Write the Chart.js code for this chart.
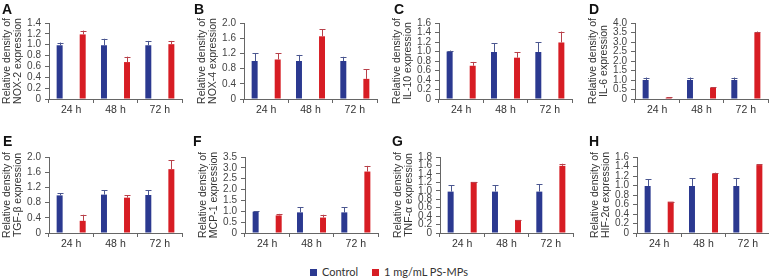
<!DOCTYPE html>
<html>
<head>
<meta charset="utf-8">
<script src="https://cdn.jsdelivr.net/npm/chart.js@4"></script>
<style>
  body { margin: 0; background: #fff; width: 769px; height: 280px; overflow: hidden; position: relative; }
  canvas { position: absolute; }
  .letter { position: absolute; font: bold 14px "Liberation Sans", Arial, sans-serif; color: #111; }
  #legend { position: absolute; top: 265px; left: 310px; font: 11px Lato, "Noto Sans", sans-serif; color: #333; white-space: nowrap; }
  #legend span.sw { display: inline-block; width: 7px; height: 7px; margin-right: 5px; vertical-align: 0px; }
  #legend span.item { margin-right: 14px; }
</style>
</head>
<body>
<div id="legend"></div>
<script>
const times = ['24 h', '48 h', '72 h'];
const seriesNames = ['Control', '1 mg/mL PS-MPs'];
const seriesColors = ['#2b3990', '#d71d24'];
const errorColors = ['#4b5790', '#b8414a'];

const panelLetters = ['A', 'B', 'C', 'D', 'E', 'F', 'G', 'H'];
const markers = ['NOX-2', 'NOX-4', 'IL-10', 'IL-6', 'TGF-β', 'MCP-1', 'TNF-α', 'HIF-2α'];

const controlValues = [
  [0.99, 0.99, 0.99], [1.0, 1.0, 1.0], [1.0, 0.99, 0.99], [1.0, 1.0, 1.0],
  [0.99, 1.01, 1.0], [0.98, 0.95, 0.95], [0.98, 0.98, 0.98], [0.99, 0.99, 0.99]
];
const controlErrors = [
  [0.05, 0.12, 0.08], [0.2, 0.16, 0.11], [0.02, 0.18, 0.2], [0.13, 0.13, 0.13],
  [0.06, 0.12, 0.13], [0.02, 0.23, 0.23], [0.15, 0.15, 0.17], [0.14, 0.16, 0.17]
];
const psValues = [
  [1.19, 0.68, 1.01], [1.04, 1.65, 0.53], [0.70, 0.87, 1.19], [0.07, 0.59, 3.48],
  [0.32, 0.93, 1.68], [0.81, 0.71, 2.83], [1.21, 0.31, 1.59], [0.66, 1.25, 1.43]
];
const psErrors = [
  [0.07, 0.10, 0.06], [0.16, 0.18, 0.25], [0.08, 0.12, 0.23], [0.02, 0.02, 0.07],
  [0.16, 0.06, 0.24], [0.07, 0.13, 0.26], [0.0, 0.0, 0.05], [0.0, 0.02, 0.02]
];
const yMax = [1.4, 2.0, 1.6, 4.0, 2.0, 3.5, 1.8, 1.6];
const yStep = [0.2, 0.4, 0.2, 0.5, 0.4, 0.5, 0.2, 0.2];

// where each panel's y axis sits on the page
const axisLeft = [49, 244, 439, 635, 49, 245, 440, 637];
const letterPos = [[2, 1], [194, 1], [394, 1], [589, 1], [3, 133], [193, 133], [392, 133], [589, 133]];
const yAxisWidth = 47;
const plotWidth = 133;

// draws the upward error bars from the bar top
const errorBars = {
  id: 'errorBars',
  afterDatasetsDraw(chart) {
    const ctx = chart.ctx;
    const y = chart.scales.y;
    chart.data.datasets.forEach((ds, i) => {
      chart.getDatasetMeta(i).data.forEach((bar, j) => {
        const top = y.getPixelForValue(ds.data[j] + ds.errors[j]);
        const x = Math.round(bar.x) + 0.5;
        ctx.save();
        ctx.strokeStyle = ds.errorColor;
        ctx.lineWidth = 1;
        ctx.beginPath();
        ctx.moveTo(x, bar.y);
        ctx.lineTo(x, top);
        ctx.moveTo(x - 3, Math.round(top) + 0.5);
        ctx.lineTo(x + 3, Math.round(top) + 0.5);
        ctx.stroke();
        ctx.restore();
      });
    });
  }
};

function makePanel(p) {
  const row = p < 4 ? 0 : 1;
  const top = row === 0 ? 0 : 125;
  const padTop = row === 0 ? 23 : 32;
  const xHeight = row === 0 ? 26 : 17;
  const left = axisLeft[p] - yAxisWidth;

  const canvas = document.createElement('canvas');
  canvas.width = yAxisWidth + plotWidth + 2;
  canvas.height = 125;
  canvas.style.left = left + 'px';
  canvas.style.top = top + 'px';
  document.body.appendChild(canvas);

  const letter = document.createElement('div');
  letter.className = 'letter';
  letter.textContent = panelLetters[p];
  letter.style.left = letterPos[p][0] + 'px';
  letter.style.top = letterPos[p][1] + 'px';
  document.body.appendChild(letter);

  new Chart(canvas.getContext('2d'), {
    type: 'bar',
    data: {
      labels: times,
      datasets: [
        { label: seriesNames[0], data: controlValues[p], errors: controlErrors[p],
          backgroundColor: seriesColors[0], errorColor: errorColors[0] },
        { label: seriesNames[1], data: psValues[p], errors: psErrors[p],
          backgroundColor: seriesColors[1], errorColor: errorColors[1] }
      ]
    },
    options: {
      responsive: false,
      animation: false,
      devicePixelRatio: 1,
      categoryPercentage: 1.04,
      barPercentage: 0.26,
      layout: { padding: { top: padTop, right: 2, left: 0, bottom: 0 } },
      plugins: { legend: { display: false }, tooltip: { enabled: false } },
      scales: {
        x: {
          grid: { drawOnChartArea: false, tickLength: 4, color: '#666' },
          border: { color: '#666' },
          ticks: { color: '#333', padding: 1, font: { family: 'Liberation Sans', size: 10.5 } },
          afterFit: s => { s.height = xHeight; }
        },
        y: {
          min: 0,
          max: yMax[p],
          grid: { drawOnChartArea: false, tickLength: 4, color: '#666' },
          border: { color: '#666' },
          ticks: {
            stepSize: yStep[p],
            autoSkip: false,
            padding: 4,
            color: '#444',
            font: { family: 'Liberation Sans', size: 10, lineHeight: 1.0 },
            callback: v => (v === 0 ? '0' : v.toFixed(1))
          },
          title: {
            display: true,
            text: ['Relative density of', markers[p] + ' expression'],
            color: '#333',
            padding: 0,
            font: { family: 'Liberation Sans', size: 10.5, lineHeight: 1.0 }
          },
          afterFit: s => { s.width = yAxisWidth; }
        }
      }
    },
    plugins: [errorBars]
  });
}

for (let p = 0; p < panelLetters.length; p++) makePanel(p);

const legend = document.getElementById('legend');
seriesNames.forEach((name, i) => {
  const item = document.createElement('span');
  item.className = 'item';
  item.innerHTML = '<span class="sw" style="background:' + seriesColors[i] + '"></span>' + name;
  legend.appendChild(item);
});
</script>
</body>
</html>
